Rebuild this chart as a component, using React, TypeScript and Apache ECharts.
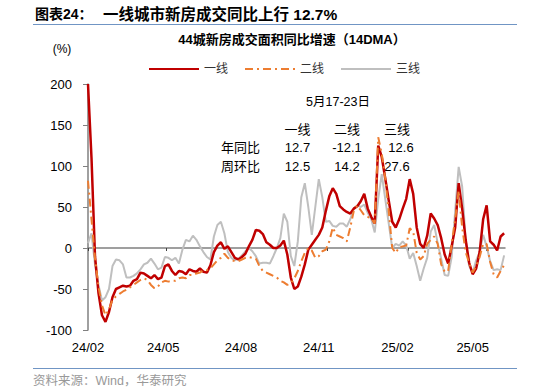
import React, { useEffect, useRef } from "react";
import * as echarts from "echarts";

// sampling step in days, first sample = 2024-02-01
const STEP = 4;

const tier1 = [200,110,-10,-55,-82,-90,-78,-60,-50,-48,
-46,-47,-46,-40,-38,-30,-31,-34,-37,-33,
-38,-36,-22,-20,-28,-33,-28,-29,-32,-26,
-28,-29,-25,-29,-30,-21,-5,3,7,-1,
2,-5,-12,-14,-11,-7,2,10,22,21,
17,7,4,0,0,3,9,-8,-36,-50,
-47,-35,-20,-2,4,10,16,25,45,63,
73,66,51,47,44,42,48,51,57,66,
48,38,30,125,111,85,58,32,25,35,
48,60,84,66,25,5,0,15,42,36,
28,12,-8,-19,2,25,79,48,10,-18,
-32,-25,-5,35,52,8,4,-3,14,18];

const tier2 = [82,35,-12,-47,-70,-82,-75,-63,-59,-56,
-53,-51,-48,-45,-42,-39,-37,-39,-45,-49,
-47,-42,-40,-41,-40,-40,-37,-36,-37,-33,
-33,-31,-30,-27,-27,-25,-20,-15,-12,-7,
-12,-15,-16,-16,-14,-12,-11,-12,-13,-22,
-28,-30,-32,-34,-36,-40,-42,-45,-43,-37,
-28,-16,-6,0,-3,-12,-10,-4,-2,8,
25,16,14,12,8,25,45,52,46,40,
38,36,30,135,115,85,45,0,-6,1,
2,3,24,20,-6,-14,-10,5,10,14,
5,-20,-29,-28,5,35,70,25,-5,-18,
-30,-22,-11,5,5,-17,-32,-36,-28,-21];

const tier3 = [6,18,-20,-45,-64,-60,-50,-22,-14,-15,
-20,-36,-36,-34,-31,-26,-20,-18,-13,-19,
-26,-24,-11,-12,-15,-12,-19,-2,10,8,
15,10,2,-5,-11,-14,14,28,32,18,
-5,-12,-15,-13,-9,-4,0,-4,-10,-19,
-18,-18,-19,-10,0,12,42,32,-10,-22,
8,62,79,50,16,50,84,62,32,33,
27,26,30,30,26,35,48,52,50,53,
43,35,19,60,90,60,30,0,5,3,
8,3,-13,-6,-22,-40,-25,-12,20,28,
6,-13,-33,-34,-11,45,99,75,10,-22,
-30,-15,-5,16,2,-16,-27,-26,-27,-9];

const seriesNames = ["一线", "二线", "三线"];
// month starts, in days from 2024-02-01
const tickDays = [0, 90, 182, 274, 366, 455];
const tickLabels = ["24/02", "24/05", "24/08", "24/11", "25/02", "25/05"];
const labelDays = [0, 86, 175, 264, 354, 440];

const yoy = ["12.7", "-12.1", "12.6"];
const wow = ["12.5", "14.2", "27.6"];

const FONT = '"Liberation Sans", Arial, "Noto Sans CJK SC", sans-serif';

function toPairs(arr: number[]) {
  return arr.map((v, i) => [i * STEP, v]);
}

function txt(text: string, x: number, y: number, opts: any = {}) {
  const align = opts.align || "left";
  return {
    type: "text",
    x,
    y,
    silent: true,
    style: {
      text,
      fill: opts.color || "#000",
      fontSize: opts.size || 13,
      fontWeight: opts.weight || "normal",
      fontFamily: opts.family || FONT,
      align,
      textAlign: align,
      verticalAlign: "middle",
      textVerticalAlign: "middle",
    },
  };
}

export default function App() {
  const ref = useRef<HTMLDivElement>(null);
  useEffect(() => {
    if (!ref.current) return;
    const chart = echarts.init(ref.current, null, { renderer: "svg" });
    const colX = [297.5, 347, 397];
    const graphic: any[] = [
      txt("图表24：", 35, 14, { size: 14, weight: "bold" }),
      txt("一线城市新房成交同比上行 12.7%", 103, 14, { size: 15.5, weight: "bold" }),
      { type: "line", silent: true, shape: { x1: 33, y1: 24.5, x2: 517, y2: 24.5 }, style: { stroke: "#7095c4", lineWidth: 1 } },
      txt("44城新房成交面积同比增速（14DMA）", 292, 39, { size: 13, weight: "bold", align: "center" }),
      txt("(%)", 62, 49, { size: 12, align: "center" }),
      txt("5月17-23日", 338, 102, { size: 12.5, align: "center" }),
      txt("年同比", 221, 147, { size: 13 }),
      txt("周环比", 221, 166, { size: 13 }),
      { type: "line", silent: true, shape: { x1: 33, y1: 368.5, x2: 517, y2: 368.5 }, style: { stroke: "#7095c4", lineWidth: 1 } },
      txt("资料来源：Wind，华泰研究", 33, 381, { size: 12.5, color: "#999" }),
    ];
    seriesNames.forEach((n, i) => {
      graphic.push(txt(n, colX[i], 129, { size: 13, align: "center" }));
      graphic.push(txt(yoy[i], colX[i] + (i === 2 ? 4 : 0), 147, { size: 13, align: "center" }));
      graphic.push(txt(wow[i], colX[i], 166, { size: 13, align: "center" }));
    });

    chart.setOption({
      animation: false,
      grid: { left: 88, right: 30, top: 84, bottom: 62 },
      legend: {
        data: seriesNames,
        left: 143,
        top: 58,
        itemWidth: 50,
        itemHeight: 12,
        itemGap: 16,
        itemStyle: { opacity: 0 },
        textStyle: { fontSize: 12, color: "#333", fontFamily: FONT },
      },
      xAxis: [
        {
          type: "value",
          min: 0,
          max: 477,
          position: "bottom",
          axisLine: { onZero: true, lineStyle: { color: "#808080", width: 1.5 } },
          axisTick: { show: true, customValues: tickDays, length: 3, lineStyle: { color: "#404040" } },
          axisLabel: { show: false },
          splitLine: { show: false },
        },
        {
          type: "value",
          min: 0,
          max: 477,
          position: "bottom",
          axisLine: { show: false, onZero: false },
          axisTick: { show: false },
          splitLine: { show: false },
          axisLabel: {
            customValues: labelDays,
            margin: 11,
            fontSize: 13,
            color: "#000",
            fontFamily: FONT,
            formatter: (v: number) => {
              const k = labelDays.indexOf(Math.round(v));
              return k >= 0 ? tickLabels[k] : "";
            },
          },
        },
      ],
      yAxis: {
        type: "value",
        min: -100,
        max: 200,
        interval: 50,
        axisLine: { show: true, onZero: false, lineStyle: { color: "#808080", width: 1.5 } },
        axisTick: { show: true, length: 5, lineStyle: { color: "#808080" } },
        axisLabel: { margin: 16, fontSize: 13, color: "#000", fontFamily: FONT },
        splitLine: { show: false },
      },
      graphic,
      series: [
        {
          name: "一线",
          type: "line",
          data: toPairs(tier1),
          showSymbol: false,
          symbol: "none",
          z: 4,
          lineStyle: { color: "#C00000", width: 2.5 },
          itemStyle: { color: "#C00000" },
        },
        {
          name: "二线",
          type: "line",
          data: toPairs(tier2),
          showSymbol: false,
          symbol: "none",
          z: 5,
          lineStyle: { color: "#ED7D31", width: 2, type: [8, 4, 2, 4] },
          itemStyle: { color: "#ED7D31" },
        },
        {
          name: "三线",
          type: "line",
          data: toPairs(tier3),
          showSymbol: false,
          symbol: "none",
          z: 2,
          lineStyle: { color: "#BFBFBF", width: 2 },
          itemStyle: { color: "#BFBFBF" },
        },
      ],
    });
    return () => chart.dispose();
  }, []);
  return (
    <div
      ref={ref}
      style={{ position: "absolute", left: 0, top: 0, width: 535, height: 392, background: "#fff" }}
    />
  );
}
